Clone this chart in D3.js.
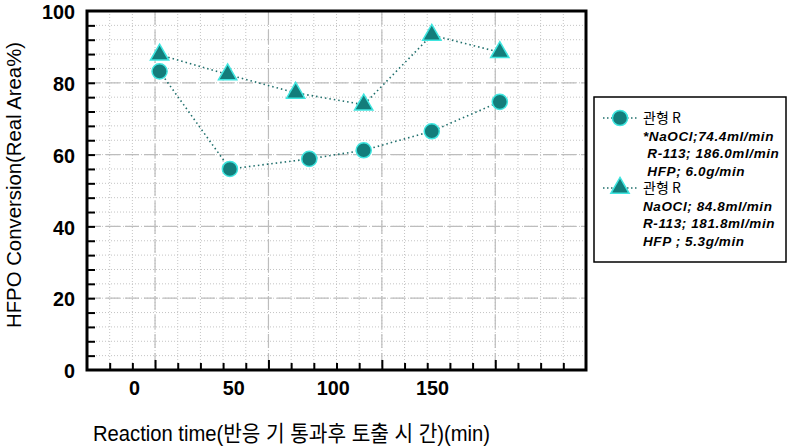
<!DOCTYPE html>
<html>
<head>
<meta charset="utf-8">
<script src="https://cdn.jsdelivr.net/npm/d3@7"></script>
<style>
  body { margin: 0; background: #fff; }
  svg { display: block; }
</style>
</head>
<body>
<svg id="chart" width="789" height="448"></svg>
<script>
'use strict';

// reaction time (min) for each series
const timeCircle = [2, 33, 68, 92, 122, 152];
const convCircle = [83.2, 56.0, 58.8, 61.2, 66.5, 74.7];
const timeTriangle = [2, 32, 62, 92, 122, 152];
const convTriangle = [87.8, 82.3, 77.2, 73.9, 93.3, 88.5];

const xTickLabels = [0, 50, 100, 150];
const yTickLabels = [0, 20, 40, 60, 80, 100];

const legendCircle = ['관형 R', '*NaOCl;74.4ml/min', ' R-113; 186.0ml/min', ' HFP; 6.0g/min'];
const legendTriangle = ['관형 R', 'NaOCl; 84.8ml/min', 'R-113; 181.8ml/min', 'HFP ; 5.3g/min'];

(function() {
    const margin = {top: 11, right: 203, bottom: 78, left: 87};
    const width = 789;
    const height = 448;
    const FILL = '#137d7b';
    const EDGE = '#3fe6e0';
    const sans = '"Liberation Sans", Arial, sans-serif';

    const svg = d3.select('#chart');

    const x = d3.scaleLinear().domain([-30, 190]).range([margin.left, width - margin.right]);
    const y = d3.scaleLinear().domain([0, 100]).range([height - margin.bottom, margin.top]);
    // the printed labels sit a little off the grid in the original figure
    const xLabel = d3.scaleLinear().domain([0, 150]).range([134, 432]);

    // squeeze text to look like a narrow face
    function narrowDigits(sel) {
        sel.attr('font-family', sans).attr('font-weight', 'bold')
            .attr('font-size', 21).attr('fill', '#000')
            .attr('textLength', d => String(d).length * 11)
            .attr('lengthAdjust', 'spacingAndGlyphs');
    }

    // minor grid (dotted)
    const g = svg.append('g');
    g.selectAll('.vminor').data(d3.range(-20, 190, 10)).join('line')
        .attr('x1', d => x(d)).attr('x2', d => x(d))
        .attr('y1', y(100)).attr('y2', y(0))
        .attr('stroke', '#c4c4c4').attr('stroke-width', 1)
        .attr('stroke-dasharray', '1 2');
    g.selectAll('.hminor').data(d3.range(4, 100, 4)).join('line')
        .attr('x1', x(-30)).attr('x2', x(190))
        .attr('y1', d => y(d)).attr('y2', d => y(d))
        .attr('stroke', '#c4c4c4').attr('stroke-width', 1)
        .attr('stroke-dasharray', '1 2');

    // major grid (dashed)
    g.selectAll('.vmajor').data([0, 50, 100, 150]).join('line')
        .attr('x1', d => x(d)).attr('x2', d => x(d))
        .attr('y1', y(100)).attr('y2', y(0))
        .attr('stroke', '#bdbdbd').attr('stroke-width', 1.2)
        .attr('stroke-dasharray', '14 5');
    g.selectAll('.hmajor').data([20, 40, 60, 80]).join('line')
        .attr('x1', x(-30)).attr('x2', x(190))
        .attr('y1', d => y(d)).attr('y2', d => y(d))
        .attr('stroke', '#bdbdbd').attr('stroke-width', 1.2)
        .attr('stroke-dasharray', '14 5');

    // inner ticks
    svg.append('g')
        .attr('transform', `translate(${margin.left}, 0)`)
        .call(d3.axisRight(y).tickValues(d3.range(4, 100, 4)).tickSize(8).tickFormat(''))
        .call(ax => ax.select('.domain').remove())
        .selectAll('line').attr('stroke', '#000').attr('stroke-width', 2);
    svg.append('g')
        .attr('transform', `translate(0, ${height - margin.bottom})`)
        .call(d3.axisTop(x).tickValues(d3.range(-20, 190, 10)).tickSize(7).tickFormat(''))
        .call(ax => ax.select('.domain').remove())
        .selectAll('line')
            .attr('y2', d => d % 50 === 0 ? -10 : -7)
            .attr('stroke', '#000').attr('stroke-width', 2);

    // tick labels
    svg.append('g')
        .attr('transform', `translate(${margin.left - 9}, 1)`)
        .call(d3.axisLeft(y).tickValues(yTickLabels).tickSize(0))
        .call(ax => ax.select('.domain').remove())
        .selectAll('text').call(narrowDigits);
    svg.append('g')
        .attr('transform', `translate(0, ${height - margin.bottom + 7})`)
        .call(d3.axisBottom(xLabel).tickValues(xTickLabels).tickSize(0))
        .call(ax => ax.select('.domain').remove())
        .selectAll('text').call(narrowDigits);

    // frame
    svg.append('rect')
        .attr('x', x(-30)).attr('y', y(100))
        .attr('width', x(190) - x(-30)).attr('height', y(0) - y(100))
        .attr('fill', 'none').attr('stroke', '#000').attr('stroke-width', 3);

    // axis titles
    svg.append('text')
        .attr('transform', 'translate(21, 185) rotate(-90)')
        .attr('text-anchor', 'middle')
        .attr('font-family', sans)
        .attr('font-size', 21)
        .attr('textLength', 286)
        .attr('lengthAdjust', 'spacingAndGlyphs')
        .text('HFPO Conversion(Real Area%)');
    svg.append('text')
        .attr('x', 93).attr('y', 441)
        .attr('font-family', '"Liberation Sans", "Noto Sans CJK KR", sans-serif')
        .attr('font-size', 22)
        .attr('textLength', 397)
        .attr('lengthAdjust', 'spacingAndGlyphs')
        .text('Reaction time(반응 기 통과후 토출 시 간)(min)');

    // series lines
    const line = d3.line().x(d => x(d[0])).y(d => y(d[1]));
    const circlePts = d3.zip(timeCircle, convCircle);
    const trianglePts = d3.zip(timeTriangle, convTriangle);

    [circlePts, trianglePts].forEach(pts => {
        svg.append('path').datum(pts)
            .attr('d', line)
            .attr('fill', 'none')
            .attr('stroke', '#1f6f6c').attr('stroke-width', 1.6)
            .attr('stroke-dasharray', '1.5 3');
    });

    const circleSym = d3.symbol().type(d3.symbolCircle).size(180);
    const triSym = d3.symbol().type(d3.symbolTriangle).size(145);

    svg.selectAll('.pc').data(circlePts).join('path')
        .attr('d', circleSym)
        .attr('transform', d => `translate(${x(d[0])}, ${y(d[1])})`)
        .attr('fill', FILL).attr('stroke', EDGE).attr('stroke-width', 1.5);
    svg.selectAll('.pt').data(trianglePts).join('path')
        .attr('d', triSym)
        .attr('transform', d => `translate(${x(d[0])}, ${y(d[1])})`)
        .attr('fill', FILL).attr('stroke', EDGE).attr('stroke-width', 1.5);

    // legend
    const lg = svg.append('g').attr('transform', 'translate(594, 97)');
    lg.append('rect')
        .attr('width', 192).attr('height', 165)
        .attr('fill', '#fff').attr('stroke', '#000').attr('stroke-width', 1.5);

    const groups = [
        {sym: circleSym, lines: legendCircle, y0: 21},
        {sym: triSym, lines: legendTriangle, y0: 91}
    ];
    groups.forEach(grp => {
        lg.append('line')
            .attr('x1', 9).attr('x2', 43)
            .attr('y1', grp.y0).attr('y2', grp.y0)
            .attr('stroke', '#1f6f6c').attr('stroke-width', 1.4)
            .attr('stroke-dasharray', '1.5 2.5');
        lg.append('path')
            .attr('d', grp.sym)
            .attr('transform', `translate(26, ${grp.y0})`)
            .attr('fill', FILL).attr('stroke', EDGE).attr('stroke-width', 1.5);
        grp.lines.forEach((t, i) => {
            const txt = lg.append('text')
                .attr('x', 49)
                .attr('y', grp.y0 + 5 + i * 17.5)
                .attr('xml:space', 'preserve')
                .style('white-space', 'pre')
                .attr('font-size', i === 0 ? 14 : 13.5)
                .text(t);
            if (i === 0) {
                txt.attr('font-family', '"Noto Sans CJK KR", "Liberation Sans", sans-serif');
            } else {
                txt.attr('font-family', sans)
                    .attr('font-style', 'italic').attr('font-weight', 'bold')
                    .attr('letter-spacing', 0.6);
            }
        });
    });
})();
</script>
</body>
</html>
